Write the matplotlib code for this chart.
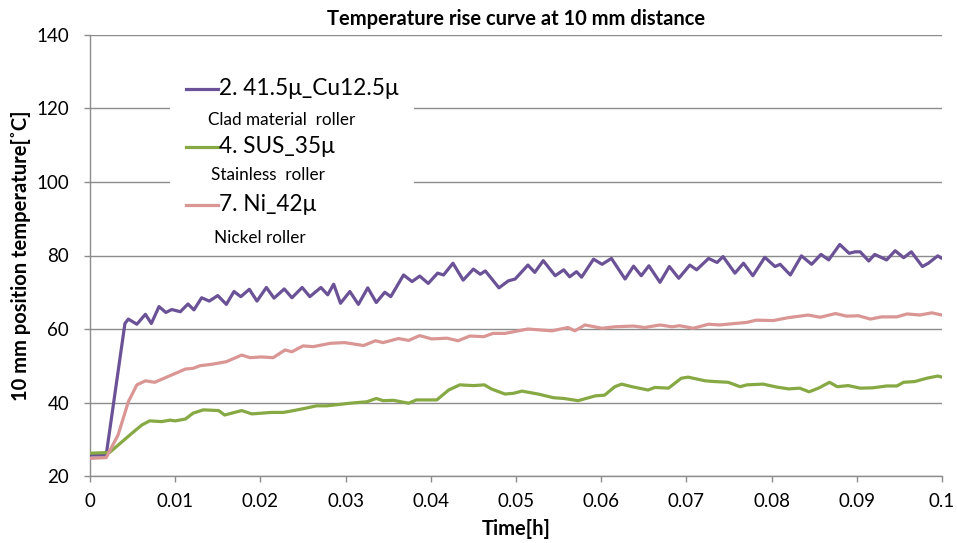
import matplotlib
matplotlib.use("Agg")
import matplotlib.pyplot as plt
from matplotlib.patches import Rectangle
from matplotlib.lines import Line2D

plt.rcParams['font.family'] = ['Lato', 'DejaVu Sans']

# Purple: 2. 41.5μ_Cu12.5μ (Clad material roller)
cu_x = [0.0, 0.0019, 0.0041, 0.0045, 0.0055, 0.0065, 0.0072, 0.0081, 0.0089, 0.0096, 0.0106,
        0.0115, 0.0122, 0.0131, 0.0140, 0.0150, 0.0160, 0.0169, 0.0177, 0.0187, 0.0196,
        0.0207, 0.0216, 0.0228, 0.0237, 0.0249, 0.0258, 0.0271, 0.0279, 0.0286, 0.0294,
        0.0305, 0.0315, 0.0326, 0.0336, 0.0346, 0.0353, 0.0368, 0.0378, 0.0387, 0.0397,
        0.0408, 0.0415, 0.0426, 0.0438, 0.0450, 0.0458, 0.0464, 0.0480, 0.0491, 0.0499,
        0.0514, 0.0522, 0.0532, 0.0546, 0.0556, 0.0563, 0.0571, 0.0577, 0.0591, 0.0601,
        0.0612, 0.0628, 0.0638, 0.0647, 0.0656, 0.0669, 0.0680, 0.0691, 0.0704, 0.0712,
        0.0726, 0.0736, 0.0743, 0.0757, 0.0767, 0.0778, 0.0792, 0.0804, 0.0810, 0.0822,
        0.0835, 0.0847, 0.0858, 0.0867, 0.0880, 0.0891, 0.0898, 0.0904, 0.0914, 0.0921,
        0.0935, 0.0945, 0.0955, 0.0964, 0.0977, 0.0984, 0.0995, 0.1000]
cu_y = [25.7, 25.7, 61.5, 62.7, 61.3, 64.0, 61.5, 66.1, 64.5, 65.3, 64.7,
        66.8, 65.2, 68.5, 67.6, 69.1, 66.7, 70.2, 68.8, 70.8, 67.6,
        71.3, 68.4, 70.9, 68.5, 71.3, 68.8, 71.3, 69.3, 72.2, 67.0,
        70.2, 66.7, 71.2, 67.2, 70.0, 68.8, 74.7, 72.9, 74.4, 72.4,
        75.2, 74.7, 77.9, 73.3, 76.3, 74.9, 75.8, 71.2, 73.1, 73.6,
        77.4, 75.4, 78.6, 74.5, 76.1, 74.2, 75.6, 74.1, 79.0, 77.6,
        79.2, 73.6, 77.1, 74.5, 77.2, 72.7, 77.0, 73.8, 77.4, 76.1,
        79.2, 78.1, 79.7, 75.2, 77.9, 74.5, 79.5, 77.0, 77.6, 74.7,
        79.9, 77.6, 80.3, 78.8, 83.0, 80.6, 81.0, 81.0, 78.5, 80.3,
        78.8, 81.3, 79.4, 81.0, 77.0, 77.9, 79.9, 79.2]

# Green: 4. SUS_35μ (Stainless roller)
sus_x = [0.0, 0.0023, 0.0033, 0.0049, 0.0061, 0.0070, 0.0084, 0.0094, 0.0100, 0.0112,
         0.0121, 0.0133, 0.0151, 0.0158, 0.0178, 0.0190, 0.0213, 0.0227, 0.0239, 0.0252,
         0.0266, 0.0278, 0.0305, 0.0325, 0.0336, 0.0344, 0.0356, 0.0374, 0.0383, 0.0407,
         0.0421, 0.0434, 0.0450, 0.0463, 0.0471, 0.0487, 0.0497, 0.0507, 0.0526, 0.0544,
         0.0556, 0.0573, 0.0593, 0.0604, 0.0616, 0.0624, 0.0636, 0.0655, 0.0663, 0.0679,
         0.0694, 0.0702, 0.0722, 0.0733, 0.0749, 0.0763, 0.0771, 0.0790, 0.0806, 0.0820,
         0.0833, 0.0844, 0.0855, 0.0868, 0.0877, 0.0890, 0.0904, 0.0919, 0.0935, 0.0947,
         0.0955, 0.0968, 0.0982, 0.0995, 0.1000]
sus_y = [26.2, 26.4, 28.4, 31.6, 33.9, 35.0, 34.8, 35.2, 35.0, 35.5,
         37.1, 38.0, 37.8, 36.6, 37.8, 36.9, 37.3, 37.3, 37.8, 38.4,
         39.1, 39.1, 39.8, 40.2, 41.1, 40.5, 40.6, 39.8, 40.7, 40.7,
         43.4, 44.8, 44.6, 44.8, 43.7, 42.3, 42.5, 43.1, 42.3, 41.3,
         41.1, 40.5, 41.8, 42.0, 44.3, 45.0, 44.3, 43.4, 44.1, 43.9,
         46.6, 46.9, 45.9, 45.7, 45.5, 44.3, 44.8, 45.0, 44.2, 43.7,
         43.9, 42.9, 43.9, 45.5, 44.3, 44.6, 43.9, 44.0, 44.5, 44.5,
         45.5, 45.7, 46.6, 47.2, 46.9]

# Pink: 7. Ni_42μ (Nickel roller)
ni_x = [0.0, 0.0019, 0.0033, 0.0045, 0.0055, 0.0065, 0.0076, 0.0088, 0.0098, 0.0112,
        0.0121, 0.0129, 0.0143, 0.0160, 0.0178, 0.0188, 0.0201, 0.0215, 0.0229, 0.0237,
        0.0250, 0.0262, 0.0282, 0.0299, 0.0321, 0.0335, 0.0344, 0.0362, 0.0374, 0.0387,
        0.0401, 0.0419, 0.0432, 0.0446, 0.0462, 0.0473, 0.0487, 0.0505, 0.0514, 0.0542,
        0.0561, 0.0569, 0.0581, 0.0601, 0.0616, 0.0638, 0.0651, 0.0669, 0.0683, 0.0692,
        0.0708, 0.0726, 0.0739, 0.0757, 0.0771, 0.0782, 0.0802, 0.0820, 0.0843, 0.0857,
        0.0875, 0.0888, 0.0902, 0.0916, 0.0929, 0.0947, 0.0959, 0.0974, 0.0988, 0.1000]
ni_y = [24.8, 25.0, 31.2, 40.2, 44.8, 45.9, 45.5, 46.7, 47.7, 49.1,
        49.3, 50.0, 50.4, 51.1, 52.9, 52.2, 52.4, 52.2, 54.3, 53.8,
        55.4, 55.2, 56.1, 56.3, 55.5, 56.8, 56.3, 57.4, 56.9, 58.2,
        57.3, 57.5, 56.8, 58.1, 57.9, 58.8, 58.8, 59.6, 60.0, 59.5,
        60.4, 59.5, 61.1, 60.2, 60.6, 60.8, 60.4, 61.1, 60.6, 60.9,
        60.2, 61.3, 61.1, 61.5, 61.8, 62.4, 62.3, 63.1, 63.8, 63.2,
        64.2, 63.5, 63.6, 62.7, 63.3, 63.3, 64.1, 63.8, 64.4, 63.8]

series_labels = ["2. 41.5μ_Cu12.5μ", "4. SUS_35μ", "7. Ni_42μ"]
series_notes = ["Clad material  roller", "Stainless  roller", "Nickel roller"]
x_ticks = [0, 0.01, 0.02, 0.03, 0.04, 0.05, 0.06, 0.07, 0.08, 0.09, 0.1]
x_tick_labels = ["0", "0.01", "0.02", "0.03", "0.04", "0.05", "0.06", "0.07", "0.08", "0.09", "0.1"]
y_ticks = [20, 40, 60, 80, 100, 120, 140]

colors = ['#6B5297', '#86A944', '#D99694']
grid_c = '#8C8C8C'

W, H = 957, 543
fig = plt.figure(figsize=(W / 100, H / 100), dpi=100)
ax = fig.add_axes([90 / W, (H - 476) / H, (942 - 90) / W, (476 - 35) / H])

for xs, ys, c in zip([cu_x, sus_x, ni_x], [cu_y, sus_y, ni_y], colors):
    ax.plot(xs, ys, color=c, lw=2.3, solid_joinstyle='round', solid_capstyle='round', zorder=3)

ax.set_xlim(0, 0.1)
ax.set_ylim(20, 140)
ax.set_xticks(x_ticks)
ax.set_xticklabels(x_tick_labels)
ax.set_yticks(y_ticks)
ax.yaxis.grid(True, color=grid_c, lw=1.0)
ax.set_axisbelow(True)
for s in ['top', 'right']:
    ax.spines[s].set_visible(False)
for s in ['left', 'bottom']:
    ax.spines[s].set_color(grid_c)
    ax.spines[s].set_linewidth(1.0)
ax.tick_params(axis='both', colors=grid_c, length=4, width=1.0, labelsize=13.5, labelcolor='black')
ax.tick_params(axis='y', pad=11)
ax.tick_params(axis='x', pad=8)

ax.set_title("Temperature rise curve at 10 mm distance", fontsize=14.5, fontweight='bold', pad=7)
ax.set_xlabel("Time[h]", fontsize=14.5, fontweight='bold', labelpad=7)
ax.set_ylabel("10 mm position temperature[˚C]", fontsize=14.5, fontweight='bold', labelpad=4)

# legend box (white, no border)
def ax_pt(px, py):
    return ((px - 90) / (942 - 90), (476 - py) / (476 - 35))

x0, y0 = ax_pt(170, 245)
x1, y1 = ax_pt(414, 68)
ax.add_patch(Rectangle((x0, y0), x1 - x0, y1 - y0, transform=ax.transAxes,
                       facecolor='white', edgecolor='none', zorder=2))
line_ys = [89, 147, 205]
note_pos = [(208, 120), (211, 175), (214, 238)]
for lbl, note, c, ly, (nx, ny) in zip(series_labels, series_notes, colors, line_ys, note_pos):
    a, b = ax_pt(186, ly)
    a2, _ = ax_pt(218, ly)
    ax.add_line(Line2D([a, a2], [b, b], transform=ax.transAxes, color=c, lw=2.3, zorder=4))
    tx, ty = ax_pt(219, ly)
    ax.text(tx, ty, lbl, transform=ax.transAxes, fontsize=16.3, va='center', ha='left', zorder=4)
    nx_, ny_ = ax_pt(nx, ny)
    ax.text(nx_, ny_, note, transform=ax.transAxes, fontsize=12.3, va='center', ha='left', zorder=4)

fig.savefig("out.png", dpi=100)
